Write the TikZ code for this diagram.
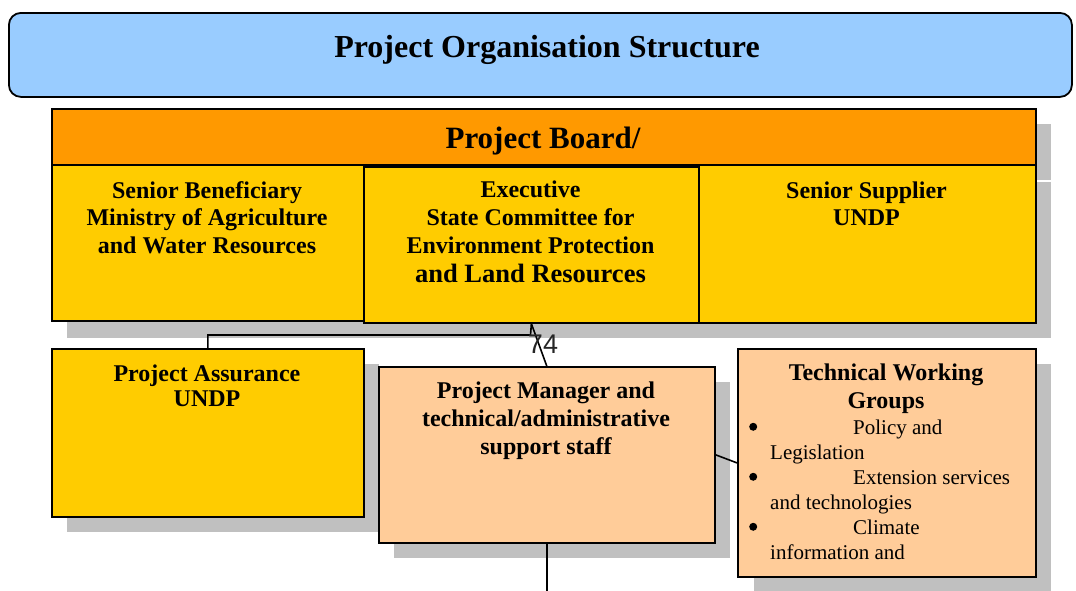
\documentclass[tikz,border=0pt]{standalone}
\usepackage{fontspec}
\setmainfont{Liberation Serif}
\newfontfamily\lblfont{Liberation Sans}
\definecolor{tblue}{HTML}{99CCFF}
\definecolor{torange}{HTML}{FF9900}
\definecolor{tyellow}{HTML}{FFCC00}
\definecolor{tpeach}{HTML}{FFCC99}
\definecolor{tshadow}{HTML}{C0C0C0}
\newcommand{\bigbul}{\llap{\raisebox{4pt}{\tikz\fill[black] (0,0) circle (4pt);}\hspace{13pt}}}
\begin{document}
\begin{tikzpicture}[x=1pt,y=-1pt,
  box/.style={draw=black, line width=1.8pt, rectangle, inner sep=0pt, anchor=north west},
  shad/.style={fill=tshadow, draw=none},
  conn/.style={draw=black, line width=1.6pt},
  boxtext/.style={font=\bfseries\fontsize{24}{28}\selectfont, align=center, inner sep=0pt, anchor=north},
  listtext/.style={font=\fontsize{21}{25}\selectfont, align=left, inner sep=0pt, anchor=north west},
]
\useasboundingbox (0,0) rectangle (1076,590);
% shadows
\fill[shad] (67,124) rectangle (1051,180);
\fill[shad] (67,182) rectangle (1051,338);
\fill[shad] (67,364) rectangle (379,532);
\fill[shad] (394,382) rectangle (730,558);
\fill[shad] (754,364) rectangle (1051,595);
% title
\node[box, rounded corners=12pt, fill=tblue, minimum width=1063pt, minimum height=84pt] (title) at (8,12) {};
\node[boxtext, font=\bfseries\fontsize{32}{36}\selectfont] (titleT) at (547,35) {Project Organisation Structure};
% board
\node[box, fill=torange, minimum width=984pt, minimum height=56pt] (board) at (51,108) {};
\node[boxtext, font=\bfseries\fontsize{31}{36}\selectfont] (boardT) at (543,127) {Project Board/};
\node[box, fill=tyellow, minimum width=312pt, minimum height=156pt] (sb) at (51,164) {};
\node[box, fill=tyellow, minimum width=337pt, minimum height=158pt] (ss) at (698,164) {};
\node[box, fill=tyellow, minimum width=335pt, minimum height=156pt] (ex) at (363,166) {};
\node[boxtext, font=\bfseries\fontsize{24}{27.5}\selectfont] (sbT) at (207,181) {Senior Beneficiary\\Ministry of Agriculture\\and Water Resources};
\node[boxtext] (exT) at (530.5,181) {Executive\\State Committee for\\Environment Protection\\[1pt]{\fontsize{26.5}{30}\selectfont and Land Resources}};
\node[boxtext, font=\bfseries\fontsize{24}{27}\selectfont] (ssT) at (866.5,182) {Senior Supplier\\UNDP};
% lower boxes
\node[box, fill=tyellow, minimum width=312pt, minimum height=168pt] (pa) at (51,348) {};
\node[boxtext, font=\bfseries\fontsize{24}{25}\selectfont] (paT) at (207,365) {Project Assurance\\UNDP};
\node[box, fill=tpeach, line width=1.5pt, minimum width=336pt, minimum height=176pt] (pm) at (378,366) {};
\node[boxtext] (pmT) at (546,382) {Project Manager and\\technical/administrative\\support staff};
\node[box, fill=tpeach, minimum width=298pt, minimum height=228pt] (twg) at (737,348) {};
\node[boxtext] (twgT) at (886,364) {Technical Working\\Groups};
\node[listtext] (twgL) at (770,420) {\bigbul\hspace{83pt}Policy and\\
Legislation\\
\bigbul\hspace{83pt}Extension services\\
and technologies\\
\bigbul\hspace{83pt}Climate\\
information and};
% connectors
\coordinate (j) at (530.5,335);
\coordinate (down) at (546,592);
\draw[conn] (pa.north) |- (j) -- (ex.south);
\draw[conn] (ex.south) -- (pm.north);
\draw[conn] (pm.east) -- (twg.west);
\draw[conn] (pm.south) -- (pm.south |- down);
\node[font=\lblfont\fontsize{27}{27}\selectfont, text=black!85, inner sep=0pt] (lbl) at (543,344) {74};
\end{tikzpicture}
\end{document}
